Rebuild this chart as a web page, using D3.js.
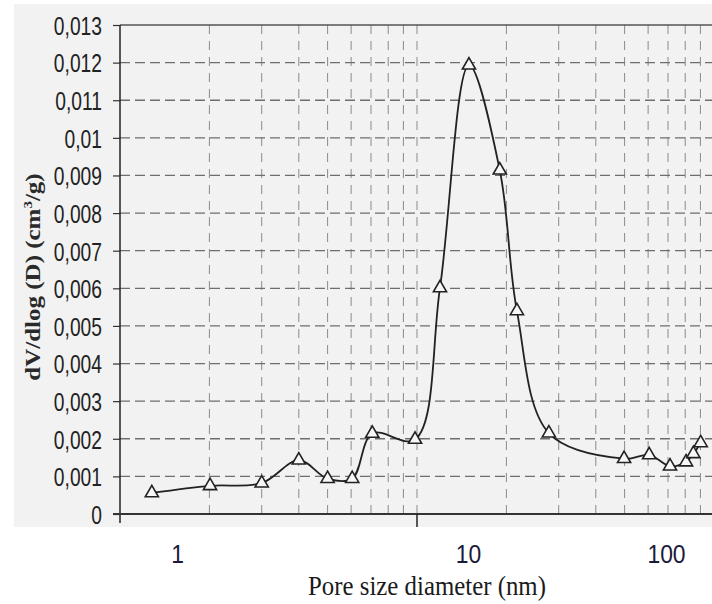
<!DOCTYPE html>
<html>
<head>
<meta charset="utf-8">
<script src="https://cdn.jsdelivr.net/npm/d3@7"></script>
<style>
  body { margin: 0; background: #fff; }
  svg { display: block; font-family: "Liberation Serif", "Times New Roman", serif; }
</style>
</head>
<body>
<svg id="chart" width="712" height="604"></svg>
<script>
// pore size distribution
var poreSize = [1.28, 2.01, 3.0, 4.0, 5.0, 6.05, 7.07, 9.85, 11.95, 14.96, 19.0, 21.7,
                27.8, 49.8, 60.5, 71.1, 80.5, 85.2, 90.2];
var dvdlogD = [0.00056, 0.00075, 0.00082, 0.00143, 0.00094, 0.00094, 0.00214, 0.00198,
               0.00601, 0.01193, 0.00914, 0.0054, 0.00215, 0.00147, 0.00157, 0.00127,
               0.00138, 0.0016, 0.00189];

var yTicks = d3.range(0, 14).map(function(i) { return i / 1000; });
var xLabelTicks = [1, 10, 100];

var svg = d3.select("#chart");

//////////////////////////////////////////////////////////////////////////////
// scales

var x = d3.scaleLog().domain([1, 100]).range([120, 714]);
var y = d3.scaleLinear().domain([0, 0.013]).range([514, 25]);
// the decade labels sit below the plot, not on its grid
var xLabel = d3.scaleLog().domain([1, 10, 100]).range([177, 468, 666]);

function commaFormat(d) {
    return String(+d.toFixed(3)).replace(".", ",");
}

// light gray paper behind the plot
svg.append("rect")
    .attr("x", 14).attr("y", 4)
    .attr("width", 712 - 14).attr("height", 527 - 4)
    .attr("fill", "#f2f2f2");

//////////////////////////////////////////////////////////////////////////////
// grid

var vGrid = x.ticks().filter(function(d) { return d > 1; });
svg.append("g")
    .selectAll("line")
    .data(vGrid)
    .join("line")
    .attr("x1", function(d) { return x(d); })
    .attr("x2", function(d) { return x(d); })
    .attr("y1", y(0.013))
    .attr("y2", y(0))
    .attr("stroke", "#8a8a8a")
    .attr("stroke-width", 1)
    .attr("stroke-dasharray", "9,7");

svg.append("g")
    .selectAll("line")
    .data(yTicks.filter(function(d) { return d > 0 && d < 0.013; }))
    .join("line")
    .attr("x1", x(1))
    .attr("x2", 712)
    .attr("y1", function(d) { return y(d); })
    .attr("y2", function(d) { return y(d); })
    .attr("stroke", "#6e6e6e")
    .attr("stroke-width", 1.3)
    .attr("stroke-dasharray", "10,5");

// top frame line
svg.append("line")
    .attr("x1", x(1)).attr("x2", 712)
    .attr("y1", y(0.013)).attr("y2", y(0.013))
    .attr("stroke", "#555")
    .attr("stroke-width", 1.5);

//////////////////////////////////////////////////////////////////////////////
// axes

var ySx = 0.74;
var yAxis = svg.append("g")
    .attr("transform", "translate(" + x(1) + ",0)")
    .call(d3.axisLeft(y).tickValues(yTicks).tickFormat(commaFormat).tickSize(7).tickSizeOuter(0));
yAxis.select(".domain").remove();
yAxis.selectAll(".tick line").attr("stroke", "#333").attr("stroke-width", 1.2);
yAxis.selectAll(".tick text")
    .attr("x", -18 / ySx)
    .attr("dy", "0.36em")
    .attr("transform", "scale(" + ySx + ",1)")
    .attr("font-size", 26)
    .attr("fill", "#222");

svg.append("line")
    .attr("x1", x(1)).attr("x2", x(1))
    .attr("y1", y(0.013)).attr("y2", y(0) + 9)
    .attr("stroke", "#222")
    .attr("stroke-width", 1.5);

svg.append("line")
    .attr("x1", x(1) - 7).attr("x2", 712)
    .attr("y1", y(0)).attr("y2", y(0))
    .attr("stroke", "#333")
    .attr("stroke-width", 1.8);

// decade tick reaching below the axis
svg.append("line")
    .attr("x1", x(10)).attr("x2", x(10))
    .attr("y1", y(0)).attr("y2", y(0) + 13)
    .attr("stroke", "#222")
    .attr("stroke-width", 1.5);

var xSx = 0.88;
var xAxis = svg.append("g")
    .attr("transform", "translate(0,563)")
    .call(d3.axisBottom(xLabel).tickValues(xLabelTicks).tickFormat(d3.format("d")).tickSize(0));
xAxis.select(".domain").remove();
xAxis.selectAll(".tick text")
    .attr("y", 0)
    .attr("dy", 0)
    .attr("transform", "scale(" + xSx + ",1)")
    .attr("font-size", 26)
    .attr("fill", "#1a1a3a");

svg.append("text")
    .attr("transform", "translate(427,595) scale(0.92,1)")
    .attr("text-anchor", "middle")
    .attr("font-size", 27)
    .attr("fill", "#1a1a1a")
    .text("Pore size diameter (nm)");

var yTitle = svg.append("text")
    .attr("transform", "translate(40,277) rotate(-90) scale(1,0.85)")
    .attr("text-anchor", "middle")
    .attr("font-size", 25)
    .attr("font-weight", "bold")
    .attr("fill", "#2a2a2a");
yTitle.append("tspan").text("dV/dlog (D) (cm");
yTitle.append("tspan").attr("font-size", 15).attr("dy", -10).text("3");
yTitle.append("tspan").attr("dy", 10).text("/g)");

//////////////////////////////////////////////////////////////////////////////
// curve and markers

var points = poreSize.map(function(d, i) { return [d, dvdlogD[i]]; });

var line = d3.line()
    .x(function(d) { return x(d[0]); })
    .y(function(d) { return y(d[1]); })
    .curve(d3.curveCatmullRom.alpha(0.5));

svg.append("path")
    .datum(points)
    .attr("d", line)
    .attr("fill", "none")
    .attr("stroke", "#222")
    .attr("stroke-width", 1.8);

svg.append("g")
    .selectAll("path")
    .data(points)
    .join("path")
    .attr("transform", function(d) { return "translate(" + x(d[0]) + "," + y(d[1]) + ")"; })
    .attr("d", d3.symbol().type(d3.symbolTriangle).size(75))
    .attr("fill", "#f7f7f7")
    .attr("stroke", "#222")
    .attr("stroke-width", 1.6);
</script>
</body>
</html>
